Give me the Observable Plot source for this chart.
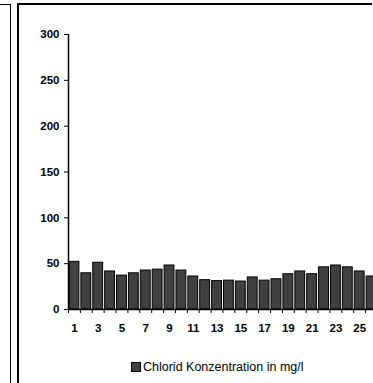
<!DOCTYPE html>
<html>
<head>
<meta charset="utf-8">
<script src="https://cdn.jsdelivr.net/npm/d3@7"></script>
<script src="https://cdn.jsdelivr.net/npm/@observablehq/plot@0.6"></script>
<style>
  html, body { margin: 0; padding: 0; background: #fff; overflow: hidden; width: 373px; height: 383px; }
  #wrap { position: relative; width: 373px; height: 383px; overflow: hidden; font-family: "Liberation Sans", Arial, sans-serif; background: #fff; }
  #chart { position: absolute; left: 0; top: 0; width: 373px; height: 383px; overflow: hidden; }
  #frame { position: absolute; left: 0; top: 0; pointer-events: none; }
  #legend { position: absolute; left: 131px; top: 360px; display: flex; align-items: center; font-size: 12.5px; color: #000; white-space: nowrap; }
  #legend .sw { width: 8px; height: 8px; background: #404040; border: 1px solid #000; margin-right: 2px; }
</style>
</head>
<body>
<div id="wrap">
  <div id="chart"></div>
  <svg id="frame" width="373" height="383">
    <line x1="0" y1="4.5" x2="10.5" y2="4.5" stroke="#000" stroke-width="1"/>
    <line x1="10.5" y1="4" x2="10.5" y2="383" stroke="#000" stroke-width="1"/>
    <line x1="18" y1="3" x2="18" y2="383" stroke="#000" stroke-width="2"/>
    <line x1="17" y1="4" x2="372" y2="4" stroke="#000" stroke-width="2"/>
  </svg>
  <div id="legend"><div class="sw"></div><span>Chlorid Konzentration in mg/l</span></div>
</div>
<script>
const samples = [1,2,3,4,5,6,7,8,9,10,11,12,13,14,15,16,17,18,19,20,21,22,23,24,25,26];
const chlorid = [52,39.5,51,41.5,37,39.5,42.5,43.5,48,42.5,36,32,31,31.5,30.5,35,31.5,33,38.5,41.5,38.5,46,48,46,41.5,36];
const yTicks = [0,50,100,150,200,250,300];
const xLabels = [1,3,5,7,9,11,13,15,17,19,21,23,25];
const seriesName = "Chlorid Konzentration in mg/l";

const data = samples.map((s, i) => ({s, v: chlorid[i]}));
const boundaries = samples.map(s => s - 0.5);

const chart = Plot.plot({
  width: 373,
  height: 383,
  marginLeft: 68,
  marginRight: 0,
  marginTop: 34,
  marginBottom: 74,
  style: {fontFamily: "'Liberation Sans', Arial, sans-serif", background: "#fff", overflow: "hidden"},
  x: {type: "linear", domain: [0.5, 26.5], range: [68, 377]},
  y: {domain: [0, 300]},
  marks: [
    Plot.rectY(data, {x1: d => d.s - 0.5, x2: d => d.s + 0.5, y: "v", insetLeft: 1, insetRight: 1, fill: "#404040", stroke: "#000", strokeWidth: 1}),
    Plot.axisY({ticks: yTicks, tickSize: 4, tickPadding: 5, fontSize: 11.5, fontWeight: "bold", stroke: "#000", label: null}),
    Plot.axisX({ticks: boundaries, tickSize: 4, tickFormat: () => "", label: null, stroke: "#000"}),
    Plot.axisX({ticks: xLabels, tickSize: 0, tickPadding: 14, fontSize: 11.5, fontWeight: "bold", label: null, tickFormat: d => String(d)}),
    Plot.ruleY([0], {stroke: "#000", strokeWidth: 1.5}),
    Plot.ruleX([0.5], {y1: 0, y2: 300, stroke: "#000", strokeWidth: 1.5})
  ]
});
document.getElementById("chart").appendChild(chart);
document.querySelector("#legend span").textContent = seriesName;
</script>
</body>
</html>
